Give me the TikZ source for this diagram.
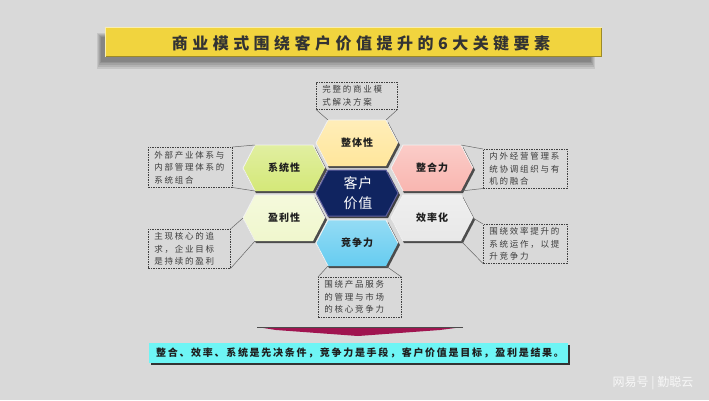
\documentclass[tikz,border=0pt]{standalone}
\usepackage{fontspec}
\newfontfamily\cjk{Noto Sans CJK SC}
\newfontfamily\cjktitle[LetterSpace=28]{Noto Sans CJK SC}
\newfontfamily\cjkhex[LetterSpace=10]{Noto Sans CJK SC}
\newfontfamily\cjknote[LetterSpace=21]{Noto Sans CJK SC}
\newfontfamily\cjkcenter[LetterSpace=7]{Noto Sans CJK SC}
\newfontfamily\cjkbanner[LetterSpace=17]{Noto Sans CJK SC}
\definecolor{bg}{RGB}{217,217,217}
\definecolor{titleyellow}{RGB}{241,212,62}
\definecolor{hexA}{RGB}{255,230,155}
\definecolor{hexB}{RGB}{212,232,120}
\definecolor{hexC}{RGB}{249,182,176}
\definecolor{hexD}{RGB}{240,247,205}
\definecolor{hexE}{RGB}{232,232,232}
\definecolor{hexF}{RGB}{102,204,240}
\definecolor{hexG}{RGB}{16,36,96}
\definecolor{bannercyan}{RGB}{110,245,245}
\definecolor{arrowred}{RGB}{160,20,80}
\definecolor{ink}{RGB}{30,30,30}
\definecolor{noteink}{RGB}{60,60,60}
\tikzset{
  hexshadow/.style={fill=black!70},
  hexrim/.style={draw=white!90!gray,line width=0.8pt},
  hexlabel/.style={font=\cjkhex\bfseries\fontsize{10}{12}\selectfont,text=ink,inner sep=0pt},
  callout/.style={draw=black!75,dashed,line width=0.5pt,dash pattern=on 1.5pt off 1pt,
    font=\cjknote\fontsize{8.5}{12.5}\selectfont,text=noteink,align=left,
    inner xsep=6pt,inner ysep=2pt,anchor=north west},
  leader/.style={draw=black!60,line width=0.5pt},
  softshadow/.style={fill=black,opacity=0.09},
}
\newcommand\hexcell[5]{%
  \begin{scope}[shift={(#2,#3)}]
    \fill[hexshadow] (-40,2) -- (-28,25) -- (31,25) -- (43,2) -- (31,-21) -- (-28,-21) -- cycle;
    \shade[top color=#4!70!white,bottom color=#4] (-41,0) -- (-29,-23) -- (29,-23) -- (41,0) -- (29,23) -- (-29,23) -- cycle;
    \draw[hexrim] (-29,23) -- (-41,0) -- (-29,-23) -- (29,-23) -- (41,0);
    \coordinate (#1-w) at (-41,0);
    \coordinate (#1-nw) at (-29,-23);
    \coordinate (#1-ne) at (29,-23);
    \coordinate (#1-e) at (41,0);
    \coordinate (#1-se) at (29,23);
    \coordinate (#1-sw) at (-29,23);
    \node[hexlabel] (#1) at (0,0) {#5};
  \end{scope}}
\begin{document}
\begin{tikzpicture}[x=1pt,y=-1pt]
\fill[bg] (0,0) rectangle (709,400);
\useasboundingbox (0,0) rectangle (709,400);
% title bar with soft shadow below-left
\fill[softshadow] (97,33) rectangle (595,69);
\fill[softshadow] (98,34) rectangle (594,67);
\fill[softshadow] (99,35) rectangle (593,65);
\fill[softshadow] (100,36) rectangle (592,63);
\fill[softshadow] (101,37) rectangle (591,62);
\node[fill=titleyellow,minimum width=497pt,minimum height=30pt,inner sep=0pt] (title) at (353.5,42) {};
\draw[white!60!titleyellow,line width=1pt] (105.5,56.5) -- (105.5,27.5) -- (601.5,27.5);
\draw[black!35!titleyellow,line width=0.8pt] (105.5,56.6) -- (601.5,56.6) -- (601.5,27.5);
\node[font=\cjktitle\bfseries\fontsize{16}{18}\selectfont,text=black!80,inner sep=0pt] (titletext) at (361,43) {商业模式围绕客户价值提升的6大关键要素};
% hexagons
\hexcell{hz}{357}{143}{hexA}{整体性}
\hexcell{hx}{284}{168}{hexB}{系统性}
\hexcell{hh}{432}{168}{hexC}{整合力}
\hexcell{hy}{284}{218}{hexD}{盈利性}
\hexcell{hl}{432}{218}{hexE}{效率化}
\hexcell{hj}{357}{243}{hexF}{竞争力}
\begin{scope}[shift={(357,193)}]
  \fill[black!75] (-40,2) -- (-28,25) -- (31,25) -- (43,2) -- (31,-21) -- (-28,-21) -- cycle;
  \fill[hexG] (-41,0) -- (-29,-23) -- (29,-23) -- (41,0) -- (29,23) -- (-29,23) -- cycle;
  \draw[draw=blue!25!gray,line width=1pt] (-41,0) -- (-29,-23) -- (29,-23) -- (41,0) -- (29,23) -- (-29,23) -- cycle;
  \node[font=\cjkcenter\fontsize{14}{20}\selectfont,text=white,align=center,inner sep=0pt] (center) at (1,0) {客户\\价值};
\end{scope}
% callouts
\node[callout,minimum width=81pt,minimum height=27pt,text width=69pt] (ctop) at (316,82) {完整的商业模\\式解决方案};
\node[callout,minimum width=84pt,minimum height=40pt,text width=72pt] (clt) at (148,147) {外部产业体系与\\内部管理体系的\\系统组合};
\node[callout,minimum width=84pt,minimum height=39pt,text width=72pt] (crt) at (483,149) {内外经营管理系\\统协调组织与有\\机的融合};
\node[callout,minimum width=82pt,minimum height=39pt,text width=70pt] (clb) at (148,229) {主现核心的追\\求，企业目标\\是持续的盈利};
\node[callout,minimum width=84pt,minimum height=39pt,text width=72pt] (crb) at (483,224) {围绕效率提升的\\系统运作，以提\\升竞争力};
\node[callout,minimum width=83pt,minimum height=40pt,text width=71pt] (cbt) at (318,277) {围绕产品服务\\的管理与市场\\的核心竞争力};
% leaders
\draw[leader] (ctop.south west) -- (hz-nw);
\draw[leader] (ctop.south east) -- (hz-ne);
\draw[leader] (clt.north east) -- (hx-nw);
\draw[leader] (clt.south east) -- (hx-sw);
\draw[leader] (crt.north west) -- (hh-ne);
\draw[leader] (crt.south west) -- (hh-se);
\draw[leader] (clb.north east) -- (hy-w);
\draw[leader] (clb.south east) -- (hy-sw);
\draw[leader] (crb.north west) -- (hl-e);
\draw[leader] (crb.south west) -- (hl-se);
\draw[leader] (cbt.north west) -- (hj-sw);
\draw[leader] (cbt.north east) -- (hj-se);
% arrow
\fill[arrowred] (257,327) -- (463,327) -- (440,330) -- (358,336) -- (276,330) -- cycle;
\draw[black!70,line width=0.6pt] (257,327) -- (463,327);
% conclusion banner
\fill[black!80] (151,345) rectangle (570,365);
\node[fill=bannercyan,minimum width=419pt,minimum height=20pt,inner sep=0pt] (banner) at (358.5,353) {};
\node[font=\cjkbanner\bfseries\fontsize{10}{12}\selectfont,text=ink,inner sep=0pt] (bannertext) at (360,353) {整合、效率、系统是先决条件，竞争力是手段，客户价值是目标，盈利是结果。};
% watermark
\node[font=\cjk\fontsize{12}{14}\selectfont,text=white,opacity=0.8,inner sep=0pt] (wm) at (653,383) {网易号 | 勤聪云};
\end{tikzpicture}
\end{document}
